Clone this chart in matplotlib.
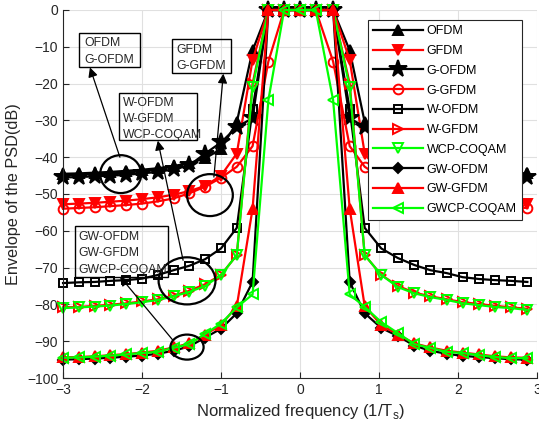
import matplotlib
matplotlib.use("Agg")
import matplotlib.pyplot as plt
from matplotlib.patches import Ellipse, Rectangle

plt.rcParams['font.family'] = ['Liberation Sans', 'DejaVu Sans']

# normalized frequency grid (1/Ts)
freq = [-3.0, -2.8, -2.6, -2.4, -2.2, -2.0, -1.8, -1.6, -1.4, -1.2, -1.0, -0.8, -0.6, -0.4, -0.2,
        0.0, 0.2, 0.42, 0.63, 0.82, 1.03, 1.24, 1.45, 1.65, 1.86, 2.06, 2.27, 2.47, 2.67, 2.88]

psd_ofdm = [-44.5, -44.4, -44.2, -44.0, -43.7, -43.4, -43.0, -42.4, -41.6, -40.3, -37.8, -30.5, -11.0,
            0, 0, 0, 0, 0,
            -11.0, -30.5, -37.8, -40.3, -41.6, -42.4, -43.0, -43.4, -43.7, -44.0, -44.2, -44.4]
psd_gfdm = [-52.8, -52.6, -52.4, -52.1, -51.8, -51.4, -50.9, -50.2, -49.2, -47.8, -45.0, -39.0, -13.6,
            0, 0, 0, 0, 0,
            -13.6, -39.0, -45.0, -47.8, -49.2, -50.2, -50.9, -51.4, -51.8, -52.1, -52.4, -52.6]
psd_g_ofdm = [-45.5, -45.4, -45.2, -45.0, -44.8, -44.4, -44.0, -43.3, -42.2, -39.0, -36.0, -31.8, -29.4,
              0, 0, 0, 0, 0,
              -29.4, -31.8, -36.0, -39.0, -42.2, -43.3, -44.0, -44.4, -44.8, -45.0, -45.2, -45.4]
psd_g_gfdm = [-54.0, -53.8, -53.6, -53.3, -53.0, -52.6, -52.0, -51.2, -49.8, -48.0, -45.6, -42.6, -37.0,
              -14.0, 0, 0, 0, -14.0,
              -37.0, -42.6, -45.6, -48.0, -49.8, -51.2, -52.0, -52.6, -53.0, -53.3, -53.6, -53.8]
psd_w_ofdm = [-74.2, -74.0, -73.9, -73.6, -73.4, -73.0, -72.0, -70.7, -69.5, -67.7, -64.8, -59.2, -27.0,
              0, 0, 0, 0, 0,
              -27.0, -59.2, -64.8, -67.4, -69.3, -70.7, -71.5, -72.6, -73.1, -73.4, -73.6, -73.9]
psd_w_gfdm = [-80.8, -80.7, -80.4, -80.1, -79.7, -79.2, -78.6, -77.6, -76.3, -74.5, -72.0, -66.6, -20.0,
              0, 0, 0, 0, 0,
              -20.0, -66.6, -72.0, -75.0, -76.8, -77.8, -78.6, -79.4, -79.9, -80.4, -80.8, -81.2]
psd_wcp_coqam = [-81.0, -80.8, -80.6, -80.3, -79.9, -79.4, -78.8, -77.8, -76.6, -75.0, -72.0, -66.6, -21.0,
                 0, 0, 0, 0, 0,
                 -21.0, -66.6, -72.0, -75.3, -77.0, -78.0, -78.8, -79.7, -80.2, -80.7, -81.0, -81.5]
psd_gw_ofdm = [-95.0, -94.9, -94.7, -94.5, -94.2, -93.9, -93.4, -92.6, -91.4, -89.0, -86.6, -82.4, -73.9,
               0, 0, 0, 0, 0,
               -73.9, -82.4, -86.4, -88.6, -91.2, -92.6, -93.4, -94.0, -94.3, -94.6, -94.9, -95.0]
psd_gw_gfdm = [-94.4, -94.3, -94.1, -93.8, -93.5, -93.1, -92.6, -91.7, -90.6, -88.2, -85.6, -80.5, -54.0,
               0, 0, 0, 0, 0,
               -54.0, -80.5, -85.6, -88.2, -90.6, -91.7, -92.6, -93.1, -93.6, -94.1, -94.4, -94.5]
psd_gwcp_coqam = [-94.5, -94.4, -94.2, -93.9, -93.6, -93.2, -92.9, -91.8, -90.8, -88.0, -85.2, -80.8, -77.3,
                  -24.5, 0, 0, 0, -24.5,
                  -77.3, -80.7, -84.8, -87.8, -90.8, -91.8, -92.9, -93.2, -93.8, -94.3, -94.6, -94.6]

GREEN = (0, 1, 0)
# name, data, color, marker, filled, markersize
series = [
    ("OFDM", psd_ofdm, "k", "^", True, 7),
    ("GFDM", psd_gfdm, "r", "v", True, 7),
    ("G-OFDM", psd_g_ofdm, "k", "*", True, 13),
    ("G-GFDM", psd_g_gfdm, "r", "o", False, 7),
    ("W-OFDM", psd_w_ofdm, "k", "s", False, 6),
    ("W-GFDM", psd_w_gfdm, "r", ">", False, 7),
    ("WCP-COQAM", psd_wcp_coqam, GREEN, "v", False, 7),
    ("GW-OFDM", psd_gw_ofdm, "k", "D", True, 5),
    ("GW-GFDM", psd_gw_gfdm, "r", "^", True, 7),
    ("GWCP-COQAM", psd_gwcp_coqam, GREEN, "<", False, 7),
]

fig = plt.figure(figsize=(5.39, 4.34), dpi=100)
ax = fig.add_axes([0.117, 0.129, 0.879, 0.848])

for name, vals, col, mk, filled, ms in series:
    ax.plot(freq, vals, color=col, marker=mk, markersize=ms, linewidth=1.6,
            markerfacecolor=col if filled else "none", markeredgecolor=col,
            markeredgewidth=1.4, label=name, clip_on=False)

ax.set_xlim(-3, 3)
ax.set_ylim(-100, 0)
ax.set_xticks(range(-3, 4))
ax.set_yticks(range(-100, 1, 10))
ax.grid(True, color="#e0e0e0", linewidth=0.8)
ax.set_axisbelow(True)
ax.spines["top"].set_visible(False)
ax.spines["right"].set_visible(False)
for sp in ("left", "bottom"):
    ax.spines[sp].set_color("#262626")
ax.tick_params(direction="in", labelsize=10, colors="#262626", length=4)
ax.set_xlabel("Normalized frequency (1/T$_\\mathregular{s}$)", fontsize=12, color="#262626")
ax.set_ylabel("Envelope of the PSD(dB)", fontsize=11.7, color="#262626")

leg = ax.legend(loc="upper right", bbox_to_anchor=(0.968, 0.972), fontsize=9,
                handlelength=4.0, labelspacing=0.62, borderpad=0.4, handletextpad=0.3,
                fancybox=False, framealpha=1, edgecolor="#262626", borderaxespad=0)
leg.get_frame().set_linewidth(0.8)

# annotation boxes: (x0, x1, y0, y1) box, text left x, text line y's, lines
notes = [
    ((-2.80, -2.03, -15.5, -6.25), -2.73, [-9.0, -13.6], ["OFDM", "G-OFDM"]),
    ((-1.62, -0.87, -17.1, -7.9), -1.57, [-10.9, -15.2], ["GFDM", "G-GFDM"]),
    ((-2.29, -1.30, -35.3, -22.6), -2.24, [-25.3, -29.6, -34.0], ["W-OFDM", "W-GFDM", "WCP-COQAM"]),
    ((-2.85, -1.67, -72.6, -58.7), -2.80, [-61.7, -66.0, -70.6], ["GW-OFDM", "GW-GFDM", "GWCP-COQAM"]),
]
for (x0, x1, y0, y1), tx, tys, lines in notes:
    ax.add_patch(Rectangle((x0, y0), x1 - x0, y1 - y0, fill=False, edgecolor="k",
                           linewidth=1, zorder=6, clip_on=False))
    for ty, s in zip(tys, lines):
        ax.text(tx, ty, s, fontsize=8.8, va="center", ha="left", color="#262626", zorder=7)

for cx, cy, w, h in [(-2.27, -44.6, 0.52, 10.3), (-1.14, -50.3, 0.58, 11.4),
                     (-1.43, -73.6, 0.72, 12.8), (-1.43, -91.6, 0.42, 6.8)]:
    ax.add_patch(Ellipse((cx, cy), w, h, fill=False, edgecolor="k", linewidth=1.6, zorder=5))

arrow = dict(arrowstyle="-|>", color="k", linewidth=0.9, mutation_scale=14, shrinkA=0, shrinkB=0)
for (x0, y0), (x1, y1) in [((-2.28, -40.0), (-2.66, -15.6)), ((-1.09, -45.4), (-0.97, -17.3)),
                           ((-1.48, -68.0), (-1.80, -35.5)), ((-1.61, -89.7), (-2.28, -72.4))]:
    ax.annotate("", xy=(x1, y1), xytext=(x0, y0), arrowprops=arrow, zorder=6)

fig.savefig("out.png", dpi=100)
